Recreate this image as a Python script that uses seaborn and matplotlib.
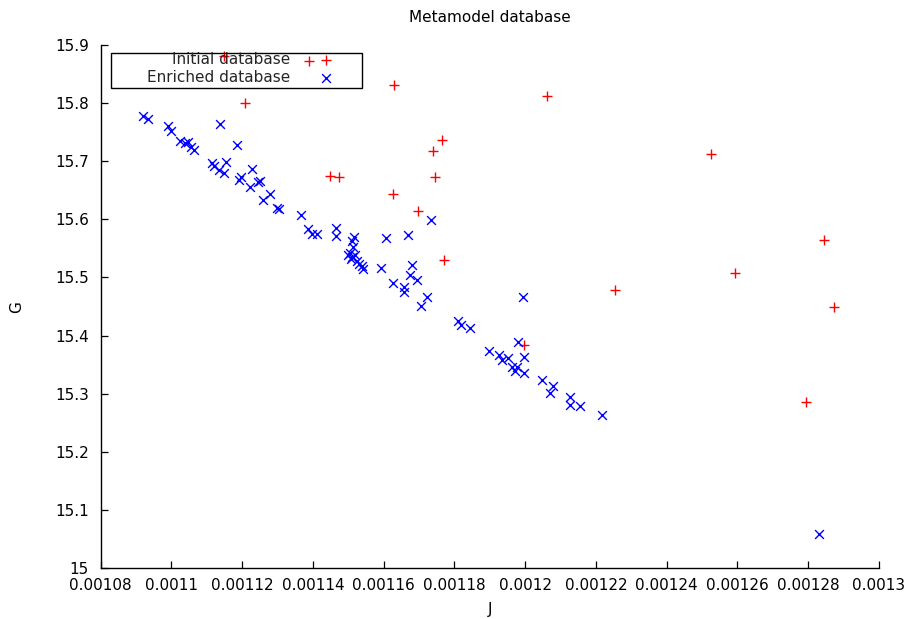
import matplotlib
matplotlib.use("Agg")
import matplotlib.pyplot as plt
import matplotlib.patches as mpatches
from matplotlib.ticker import FuncFormatter, MultipleLocator
import numpy as np
import pandas as pd
import seaborn as sns

# ---------------- data ----------------
initial_J = [0.0011149, 0.0011389, 0.0011207, 0.0011629, 0.0012063, 0.0011766,
             0.0011740, 0.0011448, 0.0011473, 0.0011746, 0.0011627, 0.0011697,
             0.0011770, 0.0012525, 0.0012844, 0.0012594, 0.0012253, 0.0012874,
             0.0011997, 0.0012795]
initial_G = [15.881, 15.872, 15.799, 15.830, 15.812, 15.737,
             15.718, 15.674, 15.673, 15.673, 15.643, 15.614,
             15.530, 15.712, 15.564, 15.508, 15.478, 15.449,
             15.384, 15.286]

enriched_J = [0.0010920, 0.0010934, 0.0010991, 0.0010999, 0.0011137, 0.0011024,
              0.0011038, 0.0011048, 0.0011055, 0.0011064, 0.0011185, 0.0011114,
              0.0011120, 0.0011155, 0.0011134, 0.0011148, 0.0011228, 0.0011198,
              0.0011191, 0.0011222, 0.0011249, 0.0011246, 0.0011280, 0.0011258,
              0.0011298, 0.0011303, 0.0011366, 0.0011387, 0.0011398, 0.0011411,
              0.0011464, 0.0011464, 0.0011516, 0.0011510, 0.0011513, 0.0011505,
              0.0011500, 0.0011510, 0.0011519, 0.0011507, 0.0011524, 0.0011529,
              0.0011538, 0.0011543, 0.0011593, 0.0011607, 0.0011668, 0.0011734,
              0.0011681, 0.0011675, 0.0011695, 0.0011627, 0.0011658, 0.0011658,
              0.0011722, 0.0011707, 0.0011993, 0.0011811, 0.0011818, 0.0011844,
              0.0011979, 0.0011898, 0.0011927, 0.0011934, 0.0011953, 0.0011962,
              0.0011976, 0.0011972, 0.0011997, 0.0011997, 0.0012047, 0.0012078,
              0.0012071, 0.0012127, 0.0012127, 0.0012154, 0.0012217, 0.0012831]
enriched_G = [15.777, 15.773, 15.761, 15.751, 15.764, 15.735,
              15.731, 15.732, 15.725, 15.719, 15.728, 15.697,
              15.692, 15.698, 15.685, 15.680, 15.686, 15.672,
              15.668, 15.656, 15.665, 15.664, 15.643, 15.633,
              15.619, 15.617, 15.608, 15.583, 15.575, 15.575,
              15.585, 15.571, 15.570, 15.562, 15.553, 15.542,
              15.539, 15.536, 15.539, 15.531, 15.529, 15.524,
              15.519, 15.515, 15.517, 15.567, 15.573, 15.598,
              15.522, 15.505, 15.495, 15.491, 15.484, 15.475,
              15.466, 15.451, 15.466, 15.426, 15.418, 15.414,
              15.390, 15.373, 15.367, 15.359, 15.361, 15.346,
              15.347, 15.340, 15.363, 15.336, 15.324, 15.314,
              15.302, 15.294, 15.281, 15.279, 15.263, 15.059]

series_names = ["Initial database", "Enriched database"]
title_text = "Metamodel database"
x_label = "J"
y_label = "G"

# ---------------- styling ----------------
sns.set_theme(style="white")
plt.rcParams["font.family"] = ["DejaVu Sans"]
FS = 11

fig = plt.figure(figsize=(9.09, 6.19), dpi=100)
ax = fig.add_axes([0.1108, 0.0816, 0.9667 - 0.1108, 0.9278 - 0.0816])

df_init = pd.DataFrame({"J": initial_J, "G": initial_G})
df_enr = pd.DataFrame({"J": enriched_J, "G": enriched_G})

sns.scatterplot(data=df_init, x="J", y="G", marker="+", color="#ff0000",
                s=45, linewidth=1.0, ax=ax, label=series_names[0], zorder=3)
sns.scatterplot(data=df_enr, x="J", y="G", marker="x", color="#0000ff",
                s=40, linewidth=1.0, ax=ax, label=series_names[1], zorder=3)

ax.set_xlim(0.00108, 0.0013)
ax.set_ylim(15.0, 15.9)
ax.xaxis.set_major_locator(MultipleLocator(0.00002))
ax.yaxis.set_major_locator(MultipleLocator(0.1))
ax.xaxis.set_major_formatter(FuncFormatter(lambda v, p: "%g" % round(v, 8)))
ax.yaxis.set_major_formatter(FuncFormatter(lambda v, p: "%g" % round(v, 4)))

for side in ["top", "right"]:
    ax.spines[side].set_visible(False)
for side in ["left", "bottom"]:
    ax.spines[side].set_visible(True)
    ax.spines[side].set_color("black")
    ax.spines[side].set_linewidth(1.0)

ax.tick_params(axis="both", which="major", direction="in", length=5, width=0.9,
               color="black", labelsize=FS, labelcolor="black")
ax.tick_params(axis="x", pad=7)
ax.tick_params(axis="y", pad=8.5)
ax.xaxis.set_ticks_position("bottom")
ax.yaxis.set_ticks_position("left")

ax.set_xlabel(x_label, fontsize=FS, labelpad=6, color="black")
ax.set_ylabel(y_label, fontsize=FS, labelpad=22, color="black")
ax.set_title(title_text, fontsize=FS, pad=16, color="black")
ax.grid(False)

# legend (gnuplot-like: text right-aligned, sample to the right)
leg = ax.legend(loc="upper right", bbox_to_anchor=(0.3111, 0.9884),
                bbox_transform=ax.transAxes, frameon=False, markerfirst=False,
                fontsize=FS, handlelength=2.0, handletextpad=1.36,
                borderpad=0.1, borderaxespad=0.0, labelspacing=0.2)
frame = mpatches.Rectangle((0.0129, 0.9173), 0.3229, 0.0674,
                           transform=ax.transAxes, fill=False,
                           edgecolor="black", linewidth=1.0, clip_on=False,
                           zorder=4)
ax.add_patch(frame)

fig.savefig("out.png", dpi=100)
